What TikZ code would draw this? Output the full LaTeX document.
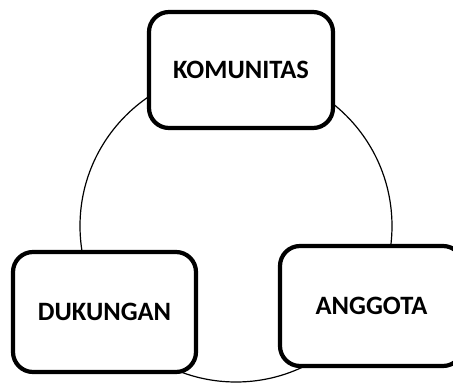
\documentclass[tikz,border=0pt]{standalone}
\usepackage{fontspec}
\setmainfont{Carlito}
\begin{document}
\begin{tikzpicture}[x=1pt,y=-1pt,
  cyclebox/.style={draw=black,fill=white,line width=4.2pt,rounded corners=20pt,
    font=\bfseries\fontsize{26.5}{30}\selectfont,inner sep=0pt},
  ring/.style={draw=black,circle,line width=1.2pt,inner sep=0pt,minimum size=312pt}]
  \useasboundingbox (0,0) rectangle (453,383);
  % background cycle
  \node[ring] (cycle) at (236,226) {};
  % three stages
  \node[cyclebox,minimum width=184pt,minimum height=116pt] (kom) at (241,70) {KOMUNITAS};
  \node[cyclebox,minimum width=183pt,minimum height=120pt] (duk) at (104.5,312) {DUKUNGAN};
  \node[cyclebox,minimum width=183pt,minimum height=120pt] (ang) at (371.5,306) {ANGGOTA};
\end{tikzpicture}
\end{document}
